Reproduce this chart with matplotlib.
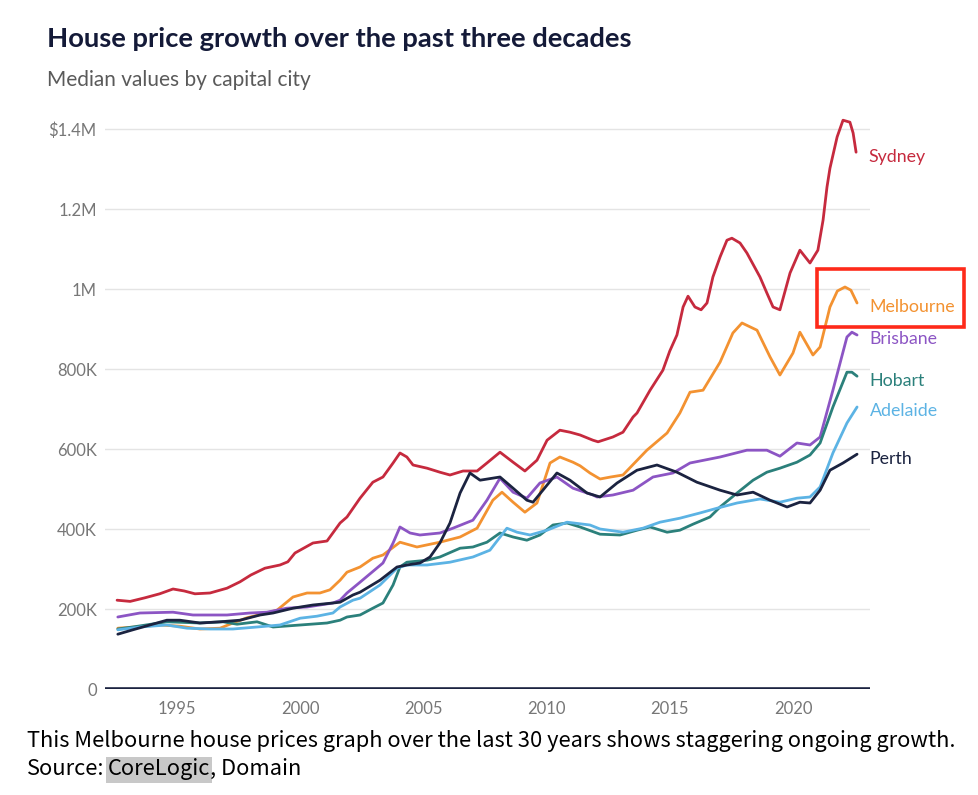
import matplotlib
matplotlib.use("Agg")
import matplotlib.pyplot as plt
from matplotlib.patches import Rectangle

W, H, DPI = 979, 795, 100

# ---------------- data (median values, $ thousands) ----------------
cities = ["Sydney", "Melbourne", "Brisbane", "Hobart", "Adelaide", "Perth"]
city_colors = ["#c62a3e", "#f39231", "#8c55c4", "#2b807b", "#5cb3e4", "#1b2340"]

sydney_years = [1992.57, 1993.1, 1993.7, 1994.3, 1994.84, 1995.3, 1995.73, 1996.34, 1997.03, 1997.56,
                1998.0, 1998.57, 1999.18, 1999.5, 1999.79, 2000.52, 2001.09, 2001.62, 2001.9, 2002.43,
                2002.95, 2003.36, 2003.77, 2004.05, 2004.33, 2004.58, 2005.15, 2005.67, 2006.08, 2006.61,
                2007.18, 2007.58, 2008.11, 2008.64, 2009.12, 2009.61, 2010.02, 2010.54, 2010.95, 2011.36,
                2011.88, 2012.09, 2012.69, 2013.1, 2013.51, 2013.67, 2014.2, 2014.72, 2015.0, 2015.29,
                2015.54, 2015.74, 2016.02, 2016.27, 2016.51, 2016.75, 2017.04, 2017.32, 2017.52, 2017.85,
                2018.13, 2018.66, 2018.94, 2019.19, 2019.47, 2019.88, 2020.28, 2020.69, 2021.01, 2021.22,
                2021.38, 2021.5, 2021.79, 2022.03, 2022.31, 2022.44, 2022.56]
sydney_values = [222, 219, 228, 238, 250, 245, 238, 240, 252, 268,
                 285, 302, 310, 318, 340, 365, 370, 415, 430, 477,
                 517, 530, 565, 590, 580, 560, 552, 542, 535, 545,
                 545, 565, 592, 567, 545, 572, 622, 647, 642, 635,
                 622, 618, 630, 642, 680, 690, 747, 797, 845, 885,
                 955, 982, 955, 948, 965, 1030, 1080, 1122, 1127, 1115,
                 1090, 1030, 990, 955, 948, 1040, 1097, 1065, 1097, 1172,
                 1255, 1302, 1380, 1422, 1417, 1390, 1342]

melbourne_years = [1992.6, 1993.3, 1994.31, 1995.12, 1995.93, 1996.75, 1997.27, 1997.84, 1998.65, 1999.06,
                   1999.71, 2000.28, 2000.8, 2001.21, 2001.62, 2001.9, 2002.43, 2002.95, 2003.36, 2004.05,
                   2004.74, 2005.67, 2006.49, 2007.18, 2007.82, 2008.19, 2008.64, 2009.12, 2009.61, 2010.14,
                   2010.54, 2011.07, 2011.36, 2011.76, 2012.17, 2012.6, 2013.1, 2014.07, 2014.89, 2015.41,
                   2015.82, 2016.35, 2017.04, 2017.56, 2017.93, 2018.54, 2019.07, 2019.47, 2020.0, 2020.28,
                   2020.81, 2021.1, 2021.5, 2021.8, 2022.11, 2022.35, 2022.6]
melbourne_values = [152, 155, 160, 157, 150, 152, 165, 178, 190, 197,
                    230, 240, 240, 248, 272, 292, 305, 327, 335, 367,
                    355, 367, 380, 402, 472, 492, 467, 442, 465, 565,
                    580, 567, 558, 540, 525, 530, 535, 597, 640, 690,
                    742, 747, 817, 890, 915, 897, 830, 785, 840, 892,
                    835, 855, 955, 995, 1005, 997, 965]

brisbane_years = [1992.6, 1993.5, 1994.84, 1995.65, 1997.03, 1997.96, 1998.65, 1999.46, 2000.28, 2001.33,
                  2001.62, 2001.9, 2002.43, 2003.36, 2003.77, 2004.05, 2004.46, 2004.86, 2005.67, 2006.2,
                  2007.01, 2007.58, 2008.11, 2008.64, 2009.2, 2009.73, 2010.42, 2011.07, 2011.88, 2012.05,
                  2012.69, 2013.51, 2014.32, 2015.13, 2015.82, 2017.04, 2018.13, 2018.94, 2019.47, 2020.16,
                  2020.69, 2021.1, 2021.62, 2022.19, 2022.39, 2022.6]
brisbane_values = [180, 190, 192, 185, 185, 190, 192, 202, 205, 215,
                   222, 240, 267, 315, 365, 405, 390, 385, 390, 402,
                   422, 472, 527, 492, 477, 515, 530, 502, 485, 480,
                   485, 497, 530, 540, 565, 580, 597, 597, 582, 615,
                   610, 630, 747, 880, 892, 885]

hobart_years = [1992.6, 1993.21, 1994.59, 1995.93, 1996.87, 1997.44, 1998.25, 1998.9, 2000.0, 2001.09,
                2001.62, 2001.9, 2002.43, 2002.95, 2003.36, 2003.77, 2004.05, 2004.33, 2005.15, 2005.67,
                2006.49, 2007.01, 2007.58, 2008.11, 2008.64, 2009.2, 2009.73, 2010.26, 2010.83, 2011.36,
                2012.17, 2012.98, 2013.67, 2014.2, 2014.89, 2015.41, 2015.94, 2016.63, 2017.04, 2017.73,
                2018.38, 2018.94, 2019.47, 2020.16, 2020.69, 2021.1, 2021.62, 2022.19, 2022.39, 2022.6]
hobart_values = [150, 155, 168, 165, 168, 162, 168, 155, 160, 165,
                 172, 180, 185, 202, 215, 260, 305, 317, 322, 330,
                 352, 355, 367, 390, 380, 372, 385, 410, 415, 405,
                 387, 385, 397, 405, 392, 397, 412, 430, 455, 490,
                 522, 542, 552, 567, 585, 615, 705, 792, 792, 782]

adelaide_years = [1992.6, 1993.5, 1994.59, 1995.41, 1996.34, 1997.27, 1998.25, 1999.18, 2000.0, 2000.68,
                  2001.33, 2001.62, 2002.14, 2002.43, 2003.24, 2003.93, 2004.33, 2005.15, 2006.08, 2007.01,
                  2007.7, 2008.39, 2008.8, 2009.33, 2010.02, 2010.83, 2011.76, 2012.17, 2013.1, 2013.91,
                  2014.6, 2015.41, 2016.22, 2016.92, 2017.73, 2018.66, 2019.47, 2020.16, 2020.69, 2021.1,
                  2021.62, 2022.19, 2022.6]
adelaide_values = [148, 155, 160, 152, 150, 150, 155, 160, 177, 182,
                   190, 205, 222, 227, 260, 302, 310, 310, 317, 330,
                   347, 402, 392, 385, 397, 417, 410, 400, 392, 402,
                   417, 427, 440, 452, 465, 475, 467, 477, 480, 505,
                   590, 665, 705]

perth_years = [1992.6, 1993.21, 1993.9, 1994.59, 1995.12, 1995.93, 1996.75, 1997.56, 1998.37, 1998.9,
               1999.71, 2000.52, 2001.33, 2001.62, 2002.14, 2002.43, 2003.24, 2003.93, 2004.33, 2004.86,
               2005.27, 2005.67, 2006.08, 2006.49, 2006.89, 2007.3, 2008.11, 2008.64, 2009.2, 2009.45,
               2009.85, 2010.42, 2010.95, 2011.64, 2012.17, 2012.86, 2013.67, 2014.48, 2015.29, 2016.1,
               2017.04, 2017.73, 2018.38, 2019.07, 2019.76, 2020.28, 2020.69, 2021.1, 2021.5, 2022.03,
               2022.6]
perth_values = [137, 148, 160, 172, 172, 165, 168, 172, 185, 190,
                202, 210, 215, 217, 235, 242, 272, 305, 310, 315,
                330, 365, 415, 490, 540, 522, 530, 502, 472, 467,
                497, 540, 522, 490, 480, 515, 547, 560, 542, 517,
                497, 485, 492, 472, 455, 467, 465, 497, 547, 565,
                587]

series_years = [sydney_years, melbourne_years, brisbane_years, hobart_years, adelaide_years, perth_years]
series_values = [sydney_values, melbourne_values, brisbane_values, hobart_values, adelaide_values, perth_values]

x_ticks = [1995, 2000, 2005, 2010, 2015, 2020]
y_ticks = [0, 200, 400, 600, 800, 1000, 1200, 1400]
y_tick_labels = ["0", "200K", "400K", "600K", "800K", "1M", "1.2M", "$1.4M"]

title = "House price growth over the past three decades"
subtitle = "Median values by capital city"
caption = "This Melbourne house prices graph over the last 30 years shows staggering ongoing growth."

# ---------------- figure ----------------
fig = plt.figure(figsize=(W / DPI, H / DPI), dpi=DPI)
fig.patch.set_facecolor("white")


def fx(px):
    return px / W


def fy(py):
    return 1 - py / H


ax = fig.add_axes([fx(105), fy(689), (870 - 105) / W, (689 - 109) / H])
ax.set_facecolor("white")
ax.set_xlim(1992.08, 2023.125)
ax.set_ylim(0, 1450)

for s in ax.spines.values():
    s.set_visible(False)

ax.set_yticks(y_ticks)
ax.set_yticklabels(y_tick_labels)
ax.set_xticks(x_ticks)
ax.set_xticklabels([str(t) for t in x_ticks])
ax.tick_params(axis="both", length=0, labelsize=12, labelcolor="#777777")
ax.tick_params(axis="y", pad=6)
ax.tick_params(axis="x", pad=9)
for lab in ax.get_xticklabels() + ax.get_yticklabels():
    lab.set_fontfamily("Lato")

for yv in y_ticks[1:]:
    ax.axhline(yv, color="#e4e4e4", lw=1.0, zorder=1)
ax.axhline(0, color="#1b2340", lw=2.6, zorder=6)

for name, col, xs, ys in zip(cities, city_colors, series_years, series_values):
    ax.plot(xs, ys, color=col, lw=2.0, solid_joinstyle="round", solid_capstyle="round", zorder=3)
    ax.annotate(name, xy=(xs[-1], ys[-1]), xytext=(9.2, -3.2), textcoords="offset points",
                color=col, fontsize=12.8, fontfamily="Lato", va="center", ha="left",
                annotation_clip=False)

# titles
fig.text(fx(47), fy(47), title, fontsize=19.7, fontweight="bold", color="#141a38",
         fontfamily="Lato", va="baseline", ha="left")
fig.text(fx(47), fy(86), subtitle, fontsize=15, color="#5a5a5a",
         fontfamily="Lato", va="baseline", ha="left")

# red highlight box around the Melbourne label
fig.patches.append(Rectangle((fx(817), fy(327)), (964 - 817) / W, (327 - 269) / H,
                             transform=fig.transFigure, fill=False, edgecolor="#fe2a1a",
                             lw=2.6, zorder=10))

# caption
cap_font = ["Noto Sans CJK SC", "DejaVu Sans"]
cap_size = 15.75
fig.text(fx(27), fy(741), caption, fontsize=cap_size, color="black", family=cap_font,
         va="center", ha="left")
fig.text(fx(27), fy(769), "Source:", fontsize=cap_size, color="black", family=cap_font,
         va="center", ha="left")
t_cl = fig.text(fx(108), fy(769), "CoreLogic", fontsize=cap_size, color="black", family=cap_font,
                va="center", ha="left", zorder=5)
fig.canvas.draw()
bb = t_cl.get_window_extent()
x_end = bb.x1 / W
fig.patches.append(Rectangle((fx(106), fy(783)), x_end + 2 / W - fx(106), (783 - 757) / H,
                             transform=fig.transFigure, facecolor="#c8c8c8", edgecolor="none",
                             zorder=0))
fig.text(x_end, fy(769), ", Domain", fontsize=cap_size, color="black", family=cap_font,
         va="center", ha="left")

fig.savefig("out.png", dpi=DPI, facecolor="white")
